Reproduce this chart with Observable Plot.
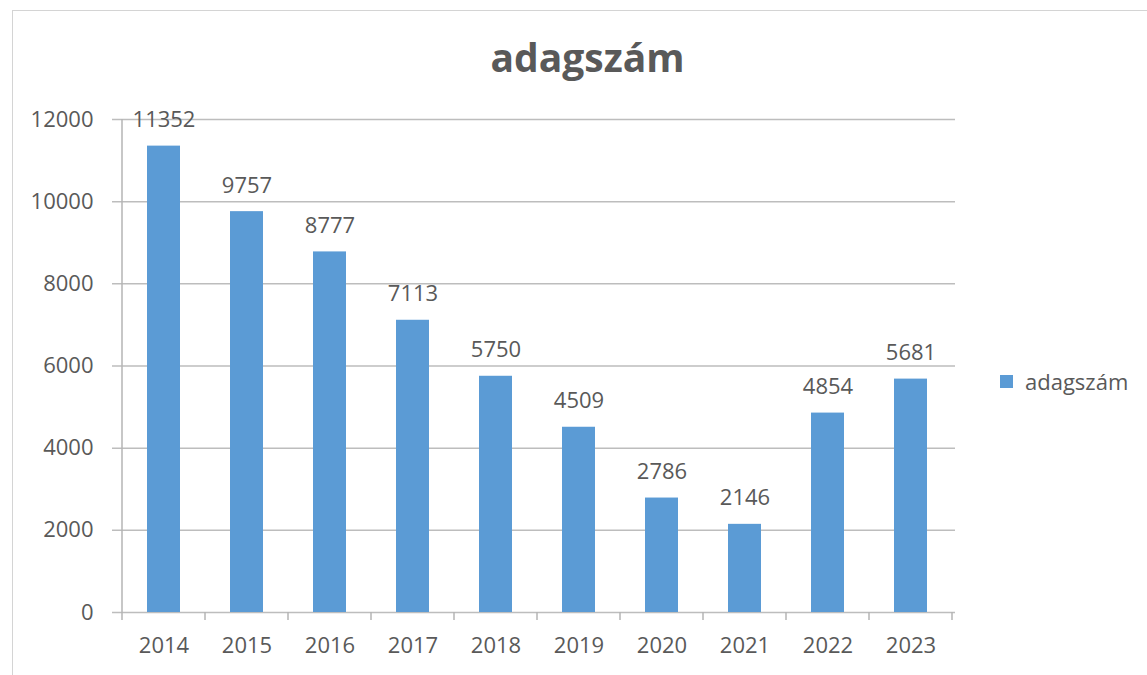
<!DOCTYPE html>
<html>
<head>
<meta charset="utf-8">
<script src="https://cdn.jsdelivr.net/npm/d3@7"></script>
<script src="https://cdn.jsdelivr.net/npm/@observablehq/plot@0.6"></script>
<style>
  body { margin: 0; background: #fff; }
  #wrap { position: relative; width: 1147px; height: 675px; overflow: hidden; font-family: "Open Sans", sans-serif; color: #595959; }
  #frame { position: absolute; left: 12px; top: 10px; width: 1140px; height: 670px; border: 1px solid #d4d4d4; box-sizing: border-box; }
  #title { position: absolute; left: 0; top: 37px; width: 1147px; padding-left: 28px; box-sizing: border-box; text-align: center; font-size: 39px; font-weight: 700; line-height: 1; color: #595959; }
  #chart { position: absolute; left: 0; top: 90px; }
  #legend { position: absolute; left: 1000px; top: 366px; display: flex; align-items: center; font-size: 22px; color: #595959; }
  #legend .sw { width: 13px; height: 13px; background: #5b9bd5; margin-right: 12px; }
</style>
</head>
<body>
<div id="wrap">
  <div id="frame"></div>
  <div id="title">adagszám</div>
  <div id="chart"></div>
  <div id="legend"><span class="sw"></span><span>adagszám</span></div>
</div>
<script>
const years = ["2014", "2015", "2016", "2017", "2018", "2019", "2020", "2021", "2022", "2023"];
const values = [11352, 9757, 8777, 7113, 5750, 4509, 2786, 2146, 4854, 5681];
const yTicks = [0, 2000, 4000, 6000, 8000, 10000, 12000];

const data = years.map((year, i) => ({year, value: values[i]}));

function axisFrame(index, scales, channels, dims) {
  const {x, y} = scales;
  const centers = years.map(d => x(d) + (x.bandwidth ? x.bandwidth() / 2 : 0));
  const step = centers[1] - centers[0];
  const bounds = centers.map(c => c - step / 2).concat([centers[centers.length - 1] + step / 2]);
  const y0 = y(0), yTop = y(12000);
  const g = d3.create("svg:g").attr("stroke", "#b4b4b4").attr("stroke-width", 1.5);
  g.append("line").attr("x1", bounds[0]).attr("x2", bounds[0]).attr("y1", yTop).attr("y2", y0);
  for (const b of bounds) {
    g.append("line").attr("x1", b).attr("x2", b).attr("y1", y0).attr("y2", y0 + 8);
  }
  return g.node();
}

const chart = Plot.plot({
  width: 1147,
  height: 585,
  marginLeft: 120,
  marginRight: 192,
  marginTop: 29,
  marginBottom: 63,
  style: {fontFamily: "Open Sans, sans-serif", color: "#595959", background: "transparent"},
  x: {domain: years, paddingInner: 0.6, paddingOuter: 0.3, label: null},
  y: {domain: [0, 12000], label: null},
  marks: [
    Plot.ruleY(yTicks, {stroke: "#bdbdbd", strokeWidth: 1.5, insetLeft: -8}),
    Plot.barY(data, {x: "year", y: "value", fill: "#5b9bd5"}),
    Plot.text(data, {x: "year", y: "value", text: d => String(d.value), dy: -19, lineAnchor: "bottom", fontSize: 22, fill: "#595959"}),
    Plot.axisY({ticks: yTicks, tickSize: 0, tickPadding: 27, tickFormat: d3.format("d"), fontSize: 22, fill: "#595959", label: null}),
    Plot.axisX({tickSize: 0, tickPadding: 25, fontSize: 22, fill: "#595959", label: null}),
    axisFrame
  ]
});
document.getElementById("chart").appendChild(chart);
</script>
</body>
</html>
